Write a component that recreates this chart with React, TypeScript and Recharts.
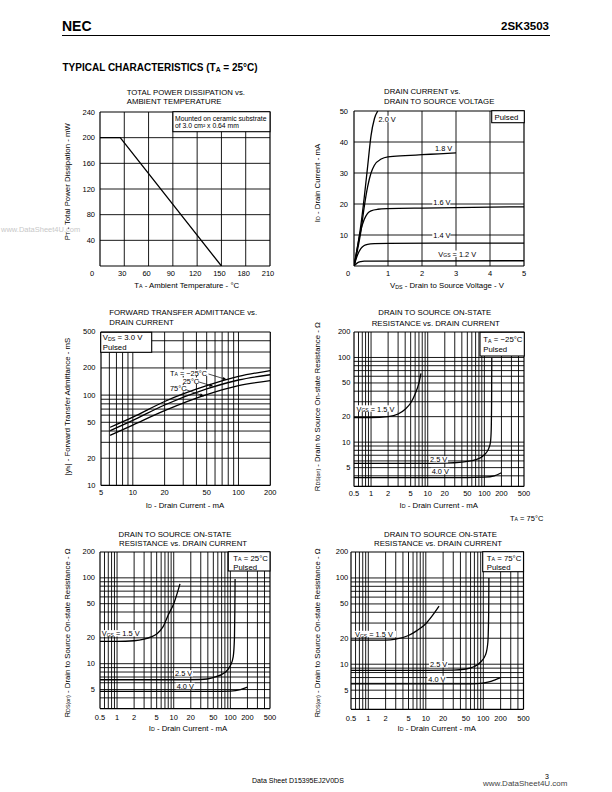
import React from 'react';
import { LineChart, Line, XAxis, YAxis, ReferenceLine } from 'recharts';

const FONT = '"Liberation Sans", Arial, Helvetica, sans-serif';

/* ---- TOTAL POWER DISSIPATION vs. AMBIENT TEMPERATURE ---- */
const ptDerating = [[0, 200], [25, 200], [150, 0]];
const ptTicksX = [0, 30, 60, 90, 120, 150, 180, 210];
const ptTicksY = [40, 80, 120, 160, 200, 240];
const ptGridX = [30, 60, 90, 120, 150, 180];
const ptGridY = [40, 80, 120, 160, 200];

/* ---- DRAIN CURRENT vs. DRAIN TO SOURCE VOLTAGE ---- */
const idVgs20 = [[0, 0], [0.1, 6], [0.2, 13], [0.3, 22], [0.4, 32], [0.5, 42], [0.6, 47.5], [0.7, 50]];
const idVgs18 = [[0, 0], [0.1, 5], [0.2, 11], [0.3, 19], [0.4, 25.5], [0.5, 30], [0.6, 32.5], [0.8, 34.5], [1, 35.2], [1.5, 35.6], [2, 35.9], [2.5, 36.2], [3, 36.5]];
const idVgs16 = [[0, 0], [0.1, 6], [0.2, 11.5], [0.3, 15], [0.4, 17], [0.5, 17.8], [0.7, 18.3], [1, 18.5], [2, 18.7], [3, 18.8], [4, 19], [5, 19.1]];
const idVgs14 = [[0, 0], [0.1, 3.5], [0.2, 5.6], [0.3, 6.6], [0.4, 7], [0.6, 7.2], [1, 7.3], [3, 7.4], [5, 7.4]];
const idVgs12 = [[0, 0], [0.1, 1], [0.2, 1.4], [0.3, 1.55], [0.5, 1.6], [5, 1.7]];
const idTicksX = [0, 1, 2, 3, 4, 5];
const idTicksY = [10, 20, 30, 40, 50];
const idGridX = [1, 2, 3, 4];
const idGridY = [10, 20, 30, 40];

/* ---- FORWARD TRANSFER ADMITTANCE vs. DRAIN CURRENT ---- */
const yfsM25 = [[6.1, 44], [10, 57], [20, 85], [50, 127], [100, 161], [200, 187]];
const yfs25 = [[6.1, 40.4], [10, 52.5], [20, 77.7], [50, 117], [100, 147], [200, 168]];
const yfs75 = [[6.1, 35.8], [10, 46.6], [20, 67.2], [50, 101], [100, 127], [200, 144.5]];
const yfsTicksX = [5, 10, 20, 50, 100, 200];
const yfsTicksY = [10, 20, 50, 100, 200, 500];
const yfsGridX = [6, 7, 8, 9, 10, 20, 30, 40, 50, 60, 70, 80, 90, 100];
const yfsGridY = [20, 30, 40, 50, 60, 70, 80, 90, 100, 200, 300, 400];

/* ---- RDS(on) vs. DRAIN CURRENT ---- */
const rdsTicksX = [0.5, 1, 2, 5, 10, 20, 50, 100, 200, 500];
const rdsTicksY = [5, 10, 20, 50, 100, 200];
const rdsGridX = [0.6, 0.7, 0.8, 0.9, 1, 2, 3, 4, 5, 6, 7, 8, 9, 10, 20, 30, 40, 50, 60, 70, 80, 90, 100, 200, 300, 400];
const rdsGridY = [4, 5, 6, 7, 8, 9, 10, 20, 30, 40, 50, 60, 70, 80, 90, 100];

// TA = -25 C
const rdsM25Vgs15 = [[0.5, 19.5], [1, 19.5], [2, 20], [3, 21.5], [4, 24.5], [5, 29], [6, 37], [7, 50], [7.6, 65]];
const rdsM25Vgs25 = [[0.5, 5.6], [5, 5.6], [20, 5.65], [40, 5.8], [70, 6.2], [100, 7.1], [120, 8.5], [128, 10], [132, 14], [134, 30], [135, 100]];
const rdsM25Vgs40 = [[0.5, 3.8], [50, 3.8], [100, 3.85], [150, 4], [200, 4.35]];
// TA = 25 C
const rds25Vgs15 = [[0.5, 18.2], [1, 18.2], [2, 18.5], [3, 19.3], [4, 20.5], [5, 22.2], [6.5, 27], [8, 37], [10, 50], [12.9, 85]];
const rds25Vgs25 = [[0.5, 6.5], [10, 6.5], [30, 6.55], [50, 6.9], [80, 7.9], [100, 9.5], [112, 12], [118, 20], [120, 45], [121, 97]];
const rds25Vgs40 = [[0.5, 4.75], [50, 4.75], [100, 4.8], [150, 5], [200, 5.35]];
// TA = 75 C
const rds75Vgs15 = [[0.5, 19], [2, 19], [3, 19.5], [5, 21.5], [7, 24.5], [10, 29.5], [13, 36.5], [17, 47]];
const rds75Vgs25 = [[0.5, 8.5], [10, 8.5], [30, 8.55], [50, 8.8], [70, 9.4], [90, 10.6], [110, 13], [120, 18], [124, 40], [125, 100]];
const rds75Vgs40 = [[0.5, 5.9], [50, 5.9], [80, 5.95], [120, 6.2], [160, 6.6], [200, 7]];

type Pt = number[];
type Seg = string | { sub: string };

interface PanelProps {
  left: number;
  top: number;
  w: number;
  h: number;
  xDomain: number[];
  yDomain: number[];
  log?: boolean;
  xTicks: number[];
  yTicks: number[];
  gridX: number[];
  gridY: number[];
  curves: Pt[][];
  curveType?: 'linear' | 'monotone';
  yGap: number;
  xLabDy: number;
  xShift?: number;
  cornerShift?: number;
}

function Panel(p: PanelProps) {
  const ML = 34;
  const MT = 8;
  const MR = 8;
  const MB = 22;
  const scale = p.log ? 'log' : 'linear';
  const [x0, x1] = p.xDomain;
  const [y0, y1] = p.yDomain;

  const xTick = (t: any) => {
    const v = t.payload.value;
    const dx = (p.xShift || 0) + (v === x0 && !p.log ? p.cornerShift || 0 : 0);
    return (
      <text x={t.x + dx} y={t.y + p.xLabDy} textAnchor="middle" dominantBaseline="central"
        fontSize={7.5} fontFamily={FONT} fill="#000">{String(v)}</text>
    );
  };
  const yTick = (t: any) => (
    <text x={t.x - p.yGap} y={t.y} textAnchor="end" dominantBaseline="central"
      fontSize={7.5} fontFamily={FONT} fill="#000">{String(t.payload.value)}</text>
  );

  return (
    <div style={{ position: 'absolute', left: p.left - ML, top: p.top - MT }}>
      <LineChart width={p.w + ML + MR} height={p.h + MT + MB}
        margin={{ top: MT, right: MR, bottom: 0, left: 0 }}>
        <XAxis dataKey="x" type="number" scale={scale} domain={p.xDomain} allowDataOverflow
          ticks={p.xTicks} interval={0} height={MB} tickSize={0} tickMargin={0}
          axisLine={false} tickLine={false} tick={xTick} />
        <YAxis type="number" scale={scale} domain={p.yDomain} allowDataOverflow
          ticks={p.yTicks} interval={0} width={ML} tickSize={0} tickMargin={0}
          axisLine={false} tickLine={false} tick={yTick} />
        {p.gridX.map((v) => (
          <ReferenceLine key={'gx' + v} x={v} stroke="#000" strokeWidth={0.9} ifOverflow="visible" />
        ))}
        {p.gridY.map((v) => (
          <ReferenceLine key={'gy' + v} y={v} stroke="#000" strokeWidth={0.9} ifOverflow="visible" />
        ))}
        <ReferenceLine x={x0} stroke="#000" strokeWidth={1.2} ifOverflow="visible" />
        <ReferenceLine x={x1} stroke="#000" strokeWidth={1.2} ifOverflow="visible" />
        <ReferenceLine y={y0} stroke="#000" strokeWidth={1.2} ifOverflow="visible" />
        <ReferenceLine y={y1} stroke="#000" strokeWidth={1.2} ifOverflow="visible" />
        {p.curves.map((c, i) => (
          <Line key={'c' + i} data={c.map(([x, y]) => ({ x, y }))} dataKey="y"
            type={p.curveType || 'monotone'} stroke="#000" strokeWidth={1.3}
            dot={false} activeDot={false} isAnimationActive={false} />
        ))}
      </LineChart>
    </div>
  );
}

function Txt({ x, y, parts, size = 7.8, anchor = 'start', bold = false, rotate = false, fill = '#000' }:
  { x: number; y: number; parts: Seg[]; size?: number; anchor?: string; bold?: boolean; rotate?: boolean; fill?: string }) {
  const shift = size * 0.22;
  let down = false;
  const kids = parts.map((s, i) => {
    if (typeof s === 'string') {
      const el = <tspan key={i} dy={down ? -shift : undefined}>{s}</tspan>;
      down = false;
      return el;
    }
    down = true;
    return <tspan key={i} fontSize={size * 0.68} dy={shift}>{s.sub}</tspan>;
  });
  return (
    <text x={x} y={y} fontSize={size} fontFamily={FONT} fontWeight={bold ? 'bold' : 'normal'}
      textAnchor={anchor as any} dominantBaseline="central" fill={fill}
      transform={rotate ? `rotate(-90 ${x} ${y})` : undefined}>
      {kids}
    </text>
  );
}

// curve label with a white patch that hides the grid behind it
function Tag({ x, y, w, parts }: { x: number; y: number; w: number; parts: Seg[] }) {
  return (
    <g>
      <rect x={x - 1} y={y - 3.2} width={w + 2} height={6.4} fill="#fff" />
      <Txt x={x} y={y} size={7.4} parts={parts} />
    </g>
  );
}

function Box({ x, y, w, h }: { x: number; y: number; w: number; h: number }) {
  return <rect x={x} y={y} width={w} height={h} fill="#fff" stroke="#000" strokeWidth={1.1} />;
}

function Arrow({ x1, y1, x2, y2 }: { x1: number; y1: number; x2: number; y2: number }) {
  const a = Math.atan2(y2 - y1, x2 - x1);
  const L = 4;
  const W = 1.6;
  const bx = x2 - L * Math.cos(a);
  const by = y2 - L * Math.sin(a);
  const pts = `${x2},${y2} ${bx - W * Math.sin(a)},${by + W * Math.cos(a)} ${bx + W * Math.sin(a)},${by - W * Math.cos(a)}`;
  return (
    <g>
      <line x1={x1} y1={y1} x2={bx} y2={by} stroke="#000" strokeWidth={0.7} />
      <polygon points={pts} fill="#000" />
    </g>
  );
}

const TA: Seg[] = ['T', { sub: 'A' }];
const RDS_TITLE: Seg[] = ['R', { sub: 'DS(on)' }, ' - Drain to Source On-state Resistance - Ω'];
const ID_TITLE: Seg[] = ['I', { sub: 'D' }, ' - Drain Current - mA'];
const VGS15: Seg[] = ['V', { sub: 'GS' }, ' = 1.5 V'];

export default function App() {
  return (
    <div style={{ position: 'absolute', left: 0, top: 0, width: 612, height: 792, background: '#fff', overflow: 'hidden' }}>
      <Panel left={100} top={111.7} w={170} h={154} xDomain={[0, 210]} yDomain={[0, 240]}
        xTicks={ptTicksX} yTicks={ptTicksY} gridX={ptGridX} gridY={ptGridY}
        curves={[ptDerating]} curveType="linear" yGap={5} xLabDy={7} xShift={-2} cornerShift={-6} />
      <Panel left={354.3} top={110.7} w={170} h={155} xDomain={[0, 5]} yDomain={[0, 50]}
        xTicks={idTicksX} yTicks={idTicksY} gridX={idGridX} gridY={idGridY}
        curves={[idVgs20, idVgs18, idVgs16, idVgs14, idVgs12]} yGap={6} xLabDy={7} cornerShift={-6} />
      <Panel left={100.7} top={332.3} w={169.3} h={153.4} log xDomain={[5, 200]} yDomain={[10, 500]}
        xTicks={yfsTicksX} yTicks={yfsTicksY} gridX={yfsGridX} gridY={yfsGridY}
        curves={[yfsM25, yfs25, yfs75]} yGap={5.5} xLabDy={7.6} />
      <Panel left={354.3} top={332.3} w={170} h={154.4} log xDomain={[0.5, 500]} yDomain={[3, 200]}
        xTicks={rdsTicksX} yTicks={rdsTicksY} gridX={rdsGridX} gridY={rdsGridY}
        curves={[rdsM25Vgs15, rdsM25Vgs25, rdsM25Vgs40]} yGap={3.6} xLabDy={6.8} />
      <Panel left={100} top={551.7} w={170} h={156.6} log xDomain={[0.5, 500]} yDomain={[3, 200]}
        xTicks={rdsTicksX} yTicks={rdsTicksY} gridX={rdsGridX} gridY={rdsGridY}
        curves={[rds25Vgs15, rds25Vgs25, rds25Vgs40]} yGap={5} xLabDy={9} />
      <Panel left={351} top={551.7} w={172.5} h={157.3} log xDomain={[0.5, 500]} yDomain={[3, 200]}
        xTicks={rdsTicksX} yTicks={rdsTicksY} gridX={rdsGridX} gridY={rdsGridY}
        curves={[rds75Vgs15, rds75Vgs25, rds75Vgs40]} yGap={2.7} xLabDy={9} />

      <svg width={612} height={792} style={{ position: 'absolute', left: 0, top: 0, pointerEvents: 'none' }}>
        {/* page furniture */}
        <Txt x={1} y={229} size={7.5} fill="#c8c8c8" parts={['www.DataSheet4U.com']} />
        <Txt x={62} y={26} size={14} bold parts={['NEC']} />
        <Txt x={549} y={26} size={11.5} bold anchor="end" parts={['2SK3503']} />
        <line x1={62} y1={35.5} x2={550} y2={35.5} stroke="#000" strokeWidth={1.2} />
        <Txt x={62.5} y={66.5} size={10} bold parts={['TYPICAL CHARACTERISTICS (', ...TA, ' = 25°C)']} />

        {/* power dissipation */}
        <Txt x={126.7} y={92.3} parts={['TOTAL POWER DISSIPATION vs.']} />
        <Txt x={126.7} y={101.3} parts={['AMBIENT TEMPERATURE']} />
        <Box x={172.9} y={111.7} w={97.1} h={20} />
        <Txt x={175} y={118} size={6.8} parts={['Mounted on ceramic substrate']} />
        <Txt x={175} y={125} size={6.8} parts={['of 3.0 cm² x 0.64 mm']} />
        <Txt x={66.7} y={181.7} rotate anchor="middle" parts={['P', { sub: 'T' }, ' - Total Power Dissipation - mW']} />
        <Txt x={186.7} y={284.5} anchor="middle" parts={[...TA, ' - Ambient Temperature - °C']} />

        {/* drain current */}
        <Txt x={384} y={90.7} parts={['DRAIN CURRENT vs.']} />
        <Txt x={384} y={100.7} parts={['DRAIN TO SOURCE VOLTAGE']} />
        <Box x={491.7} y={110.7} w={32.6} h={12} />
        <Txt x={494.5} y={116.7} parts={['Pulsed']} />
        <Tag x={378.5} y={119} w={18} parts={['2.0 V']} />
        <Tag x={435} y={148.3} w={16} parts={['1.8 V']} />
        <Tag x={433.3} y={201.7} w={16} parts={['1.6 V']} />
        <Tag x={433.3} y={235} w={16} parts={['1.4 V']} />
        <Tag x={438.3} y={253.7} w={38} parts={['V', { sub: 'GS' }, ' = 1.2 V']} />
        <Txt x={316.7} y={183} rotate anchor="middle" parts={ID_TITLE} />
        <Txt x={447} y={284.8} anchor="middle" parts={['V', { sub: 'DS' }, ' - Drain to Source Voltage - V']} />

        {/* forward transfer admittance */}
        <Txt x={109.3} y={312.3} parts={['FORWARD TRANSFER ADMITTANCE vs.']} />
        <Txt x={109.3} y={322.3} parts={['DRAIN CURRENT']} />
        <Box x={100.7} y={332.3} w={51} h={20} />
        <Txt x={102.7} y={337.3} parts={['V', { sub: 'DS' }, ' = 3.0 V']} />
        <Txt x={102.7} y={346.9} parts={['Pulsed']} />
        <Tag x={170} y={372.7} w={37} parts={[...TA, ' = −25°C']} />
        <Tag x={182.7} y={380.7} w={15} parts={['25°C']} />
        <Tag x={170} y={388.3} w={15} parts={['75°C']} />
        <Arrow x1={208.5} y1={374} x2={226.7} y2={379.6} />
        <Arrow x1={198} y1={381.7} x2={213.3} y2={386.3} />
        <Arrow x1={185.5} y1={389.5} x2={204} y2={396.2} />
        <Txt x={66.7} y={406.7} rotate anchor="middle" parts={['|y', { sub: 'fs' }, '| - Forward Transfer Admittance - mS']} />
        <Txt x={185} y={504.5} anchor="middle" parts={ID_TITLE} />

        {/* RDS(on), TA = -25 C */}
        <Txt x={378.3} y={312.3} parts={['DRAIN TO SOURCE ON-STATE']} />
        <Txt x={371.7} y={322.7} parts={['RESISTANCE vs. DRAIN CURRENT']} />
        <Box x={480} y={332.3} w={44.3} h={23.7} />
        <Txt x={483.3} y={339} parts={[...TA, ' = −25°C']} />
        <Txt x={483.3} y={349.3} parts={['Pulsed']} />
        <Tag x={356.5} y={408.5} w={40} parts={VGS15} />
        <Tag x={430} y={459.3} w={17} parts={['2.5 V']} />
        <Tag x={431.7} y={471} w={17} parts={['4.0 V']} />
        <Txt x={316.7} y={406.7} rotate anchor="middle" parts={RDS_TITLE} />
        <Txt x={438.8} y={504.5} anchor="middle" parts={ID_TITLE} />
        <Txt x={510} y={517.5} size={7.5} parts={[...TA, ' = 75°C']} />

        {/* RDS(on), TA = 25 C */}
        <Txt x={118.5} y={533.5} parts={['DRAIN TO SOURCE ON-STATE']} />
        <Txt x={119} y={543} parts={['RESISTANCE vs. DRAIN CURRENT']} />
        <Box x={228.3} y={551.7} w={41.7} h={19.3} />
        <Txt x={233.3} y={557.7} parts={[...TA, ' = 25°C']} />
        <Txt x={233.3} y={566.7} parts={['Pulsed']} />
        <Tag x={101.7} y={633.3} w={40} parts={VGS15} />
        <Tag x={175} y={673.3} w={17} parts={['2.5 V']} />
        <Tag x={176.7} y={686} w={17} parts={['4.0 V']} />
        <Txt x={66.7} y={633} rotate anchor="middle" parts={RDS_TITLE} />
        <Txt x={188} y={727.5} anchor="middle" parts={ID_TITLE} />

        {/* RDS(on), TA = 75 C */}
        <Txt x={384} y={533.5} parts={['DRAIN TO SOURCE ON-STATE']} />
        <Txt x={374} y={543} parts={['RESISTANCE vs. DRAIN CURRENT']} />
        <Box x={482.7} y={551.7} w={40.8} h={20} />
        <Txt x={486.7} y={557.7} parts={[...TA, ' = 75°C']} />
        <Txt x={486.7} y={566.7} parts={['Pulsed']} />
        <Tag x={355} y={634} w={40} parts={VGS15} />
        <Tag x={430} y={664.3} w={17} parts={['2.5 V']} />
        <Tag x={428.3} y={679} w={17} parts={['4.0 V']} />
        <Txt x={316.7} y={633} rotate anchor="middle" parts={RDS_TITLE} />
        <Txt x={436.7} y={727.5} anchor="middle" parts={ID_TITLE} />

        {/* footer */}
        <Txt x={252} y={780} size={7} parts={['Data Sheet  D15395EJ2V0DS']} />
        <Txt x={545} y={776} size={7} parts={['3']} />
        <Txt x={483} y={783} size={8} fill="#444" parts={['www.DataSheet4U.com']} />
      </svg>
    </div>
  );
}
